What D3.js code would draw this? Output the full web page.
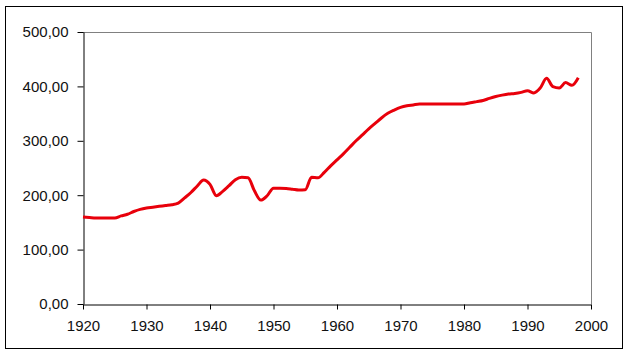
<!DOCTYPE html>
<html>
<head>
<meta charset="utf-8">
<script src="https://cdn.jsdelivr.net/npm/d3@7"></script>
<style>
  body { margin: 0; background: #fff; }
  text { font-family: "Liberation Sans", Arial, sans-serif; font-size: 15px; fill: #111; }
</style>
</head>
<body>
<script>
// years and values
var years = [1920, 1921, 1922, 1923, 1924, 1925, 1926, 1927, 1928, 1929,
             1930, 1931, 1932, 1933, 1934, 1935, 1936, 1937, 1938, 1939,
             1940, 1941, 1942, 1943, 1944, 1945, 1946, 1947, 1948, 1949,
             1950, 1951, 1952, 1953, 1954, 1955, 1956, 1957, 1958, 1959,
             1960, 1961, 1962, 1963, 1964, 1965, 1966, 1967, 1968, 1969,
             1970, 1971, 1972, 1973, 1974, 1975, 1976, 1977, 1978, 1979,
             1980, 1981, 1982, 1983, 1984, 1985, 1986, 1987, 1988, 1989,
             1990, 1991, 1992, 1993, 1994, 1995, 1996, 1997, 1998];
var values = [160, 159, 158, 158, 158, 158, 162, 165, 170, 174,
              176.5, 178, 179.5, 181, 182.5, 185.5, 195, 205, 217, 228,
              220, 199, 207, 217.5, 228.5, 233, 232, 208, 191, 199,
              213, 213, 212.5, 211, 209.5, 210, 233, 232, 242, 254,
              265, 276, 288, 300, 311, 322, 332, 342, 350.5, 356.5,
              361.5, 364.5, 366, 367.5, 367.5, 367.5, 367.5, 367.5, 367.5, 367.5,
              367.5, 370, 372, 374, 378, 381.5, 384, 386, 387, 389,
              392, 388, 397, 415, 399.5, 397, 407, 402, 416];
var yTicks = [0, 100, 200, 300, 400, 500];
var xTicks = [1920, 1930, 1940, 1950, 1960, 1970, 1980, 1990, 2000];

var width = 628, height = 360;
var plotLeft = 83, plotRight = 591, plotTop = 32, plotBottom = 304;

var svg = d3.select('body').append('svg').attr('width', width).attr('height', height);

// outer chart frame
svg.append('rect')
    .attr('x', 5.5).attr('y', 6.5)
    .attr('width', 617).attr('height', 342)
    .attr('fill', '#fff').attr('stroke', '#000');

var x = d3.scaleLinear().domain([1920, 2000]).range([plotLeft, plotRight]);
var y = d3.scaleLinear().domain([0, 500]).range([plotBottom, plotTop]);

var locale = d3.formatLocale({decimal: ",", thousands: ".", grouping: [3], currency: ["", ""]});
var fmt = locale.format(".2f");

// plot area border (top/right grey)
svg.append('path')
    .attr('d', 'M' + plotLeft + ',' + (plotTop + 0.5) + 'H' + (plotRight + 0.5) + 'V' + plotBottom)
    .attr('fill', 'none').attr('stroke', '#808080');

svg.append('g')
    .attr('transform', 'translate(' + (plotLeft + 0.5) + ',0)')
    .call(d3.axisLeft(y).tickValues(yTicks).tickFormat(fmt).tickSize(6).tickPadding(9).tickSizeOuter(0));

svg.append('g')
    .attr('transform', 'translate(0,' + (plotBottom + 0.5) + ')')
    .call(d3.axisBottom(x).tickValues(xTicks).tickFormat(d3.format('d')).tickSize(5).tickPadding(11).tickSizeOuter(0));

svg.selectAll('.tick text').attr('font-family', null).attr('font-size', null);
svg.selectAll('.domain, .tick line').attr('stroke', '#000');

var line = d3.line()
    .x(function (d, i) { return x(years[i]); })
    .y(function (d) { return y(d); })
    .curve(d3.curveMonotoneX);

svg.append('path')
    .datum(values)
    .attr('d', line)
    .attr('fill', 'none')
    .attr('stroke', '#e8000b')
    .attr('stroke-width', 3)
    .attr('stroke-linejoin', 'round');
</script>
</body>
</html>
